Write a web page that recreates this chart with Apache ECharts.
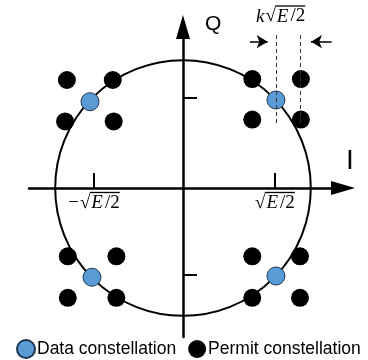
<!DOCTYPE html>
<html>
<head>
<meta charset="utf-8">
<script src="https://cdn.jsdelivr.net/npm/echarts@6/dist/echarts.min.js"></script>
<style>html,body{margin:0;padding:0;background:#fff}#c{width:368px;height:360px}</style>
</head>
<body>
<div id="c"></div>
<script>
// ---- data ----
var seriesNames = ['Data constellation', 'Permit constellation'];
var dataX = [-1.033, 1.033, -1.011, 1.033];
var dataY = [0.959, 0.978, -0.992, -0.978];
var permitX = [-1.29, -0.78, -1.31, -0.77, 0.77, 1.31, 0.77, 1.31, -1.28, -0.74, -1.28, -0.74, 0.77, 1.30, 0.77, 1.30];
var permitY = [1.20, 1.20, 0.74, 0.74, 1.21, 1.21, 0.76, 0.76, -0.76, -0.76, -1.22, -1.22, -0.76, -0.76, -1.22, -1.22];
var circleRadius = 1.42;
var xTickValues = [-0.989, 1.022];
var xTickLabels = ['{m|−}{r|√}{e|E}{s|/2}', '{r|√}{e|E}{s|/2}'];
var yTickValues = [-0.959, 1.008];
var xRange = [-1.711, 1.778];
var yRange = [-1.656, 1.789];
var kLineX = [1.033, 1.308];
var kLineY = [0.70, 1.70];
var kArrowY = 1.626;
var kArrowLeft = [0.744, 0.941];
var kArrowRight = [1.652, 1.422];
var kLabel = '{k|k}{r|√}{e|E}{s|/2}';
var axisNames = ['I', 'Q'];

function zip(xs, ys) { return xs.map(function (x, i) { return [x, ys[i]]; }); }

var serif = '"Liberation Serif","Times New Roman",serif';
var sans = '"Liberation Sans",Arial,sans-serif';
var mathRich = {
  ol: { width: 30, height: 1.3, lineHeight: 2, backgroundColor: '#000', align: 'right', fontSize: 2 },
  m: { fontFamily: serif, fontSize: 19, color: '#000', padding: [0, 1, 0, 0] },
  k: { fontFamily: serif, fontSize: 19, fontStyle: 'italic', color: '#000', padding: [0, 1, 0, 0] },
  r: { fontFamily: serif, fontSize: 19, color: '#000' },
  e: { fontFamily: serif, fontSize: 19, fontStyle: 'italic', color: '#000', padding: [0, 2, 0, 1] },
  s: { fontFamily: serif, fontSize: 19, color: '#000' }
};

var chart = echarts.init(document.getElementById('c'), null, { renderer: 'canvas' });
var lineStyle = { color: '#000', width: 2.5 };
var option = {
  animation: false,
  grid: { left: 29, right: 25, top: 27, bottom: 23 },
  xAxis: {
    type: 'value', min: xRange[0], max: xRange[1],
    splitLine: { show: false },
    axisLine: { onZero: true, lineStyle: lineStyle, symbol: ['none', 'triangle'], symbolSize: [14, 24] },
    axisTick: { show: true, inside: true, length: 15, customValues: xTickValues, lineStyle: { color: '#000', width: 2 } },
    axisLabel: { show: false }
  },
  yAxis: {
    type: 'value', min: yRange[0], max: yRange[1],
    splitLine: { show: false },
    axisLine: { onZero: true, lineStyle: lineStyle, symbol: ['none', 'triangle'], symbolSize: [14, 24] },
    axisTick: { show: true, inside: true, length: 14, customValues: yTickValues, lineStyle: { color: '#000', width: 2 } },
    axisLabel: { show: false }
  },
  legend: {
    data: seriesNames, left: 11, top: 334, itemWidth: 18, itemHeight: 18, itemGap: 12,
    textStyle: { fontFamily: sans, fontSize: 17.5, color: '#000', padding: [0, 0, 0, -3] }
  },
  graphic: [
    { type: 'text', left: 205, top: 14, style: { text: axisNames[1], font: '21px ' + sans, fill: '#000' } },
    { type: 'text', left: 346, top: 147, style: { text: axisNames[0], font: '28px ' + sans, fill: '#000' } },
    { type: 'text', left: 256, top: 5, style: { text: '{ol|}\n' + kLabel, rich: mathRich } }
  ],
  series: [
    {
      type: 'custom', name: 'circle', z: 1, silent: true,
      data: [[0, 0, circleRadius]],
      renderItem: function (params, api) {
        var c = api.coord([api.value(0), api.value(1)]);
        var r = api.size([api.value(2), 0])[0];
        return { type: 'circle', shape: { cx: c[0], cy: c[1], r: r }, style: { fill: 'none', stroke: '#000', lineWidth: 2 } };
      }
    },
    {
      type: 'scatter', name: seriesNames[1], z: 3, symbol: 'circle', symbolSize: 18,
      itemStyle: { color: '#000', opacity: 1 },
      data: zip(permitX, permitY)
    },
    {
      type: 'scatter', name: seriesNames[0], z: 4, symbol: 'circle', symbolSize: 18,
      itemStyle: { color: '#5B9BD5', borderColor: '#1e3550', borderWidth: 1, opacity: 1 },
      data: zip(dataX, dataY)
    },
    {
      type: 'scatter', name: 'annot', z: 6, data: [], silent: true,
      markPoint: {
        silent: true, animation: false, symbol: 'circle', symbolSize: 1,
        itemStyle: { color: 'rgba(0,0,0,0)' },
        label: { show: true, position: 'bottom', distance: 3, rich: mathRich, formatter: function (p) { return '{ol|}\n' + p.name; } },
        data: xTickValues.map(function (v, i) { return { name: xTickLabels[i], coord: [v, 0] }; })
      },
      markLine: {
        silent: true, animation: false, label: { show: false },
        data: [
          [{ coord: [kLineX[0], kLineY[1]], symbol: 'none', lineStyle: { type: [4, 3], color: '#333', width: 1 } }, { coord: [kLineX[0], kLineY[0]], symbol: 'none' }],
          [{ coord: [kLineX[1], kLineY[1]], symbol: 'none', lineStyle: { type: [4, 3], color: '#333', width: 1 } }, { coord: [kLineX[1], kLineY[0]], symbol: 'none' }],
          [{ coord: [kArrowLeft[0], kArrowY], symbol: 'none', lineStyle: { type: 'solid', color: '#000', width: 1.5 } }, { coord: [kArrowLeft[1], kArrowY], symbol: 'arrow', symbolSize: [10, 11] }],
          [{ coord: [kArrowRight[0], kArrowY], symbol: 'none', lineStyle: { type: 'solid', color: '#000', width: 1.5 } }, { coord: [kArrowRight[1], kArrowY], symbol: 'arrow', symbolSize: [10, 11] }]
        ]
      }
    }
  ]
};
chart.setOption(option);
</script>
</body>
</html>
